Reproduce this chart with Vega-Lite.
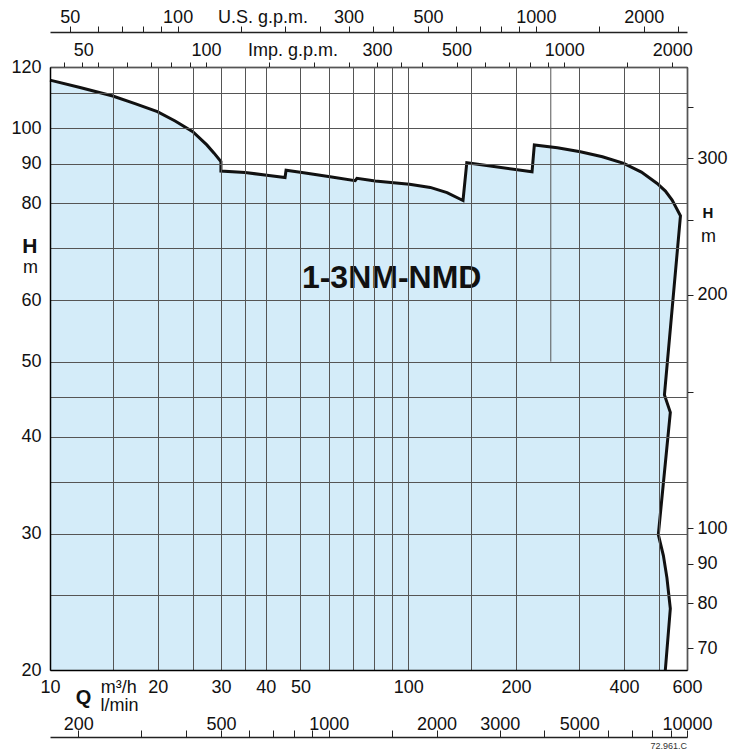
{
  "$schema": "https://vega.github.io/schema/vega-lite/v6.json",
  "width": 637,
  "height": 603,
  "autosize": "none",
  "padding": {"left": 50, "top": 67, "right": 55, "bottom": 81},
  "background": "white",
  "title": {"text": "72.961.C", "orient": "bottom", "anchor": "end", "frame": "group", "fontSize": 9, "fontWeight": "normal", "font": "Liberation Sans", "color": "#333", "offset": 4, "baseline": "top"},
  "datasets": {
    "curve": [
      {"i": 1, "Q": 10, "H": 115.4},
      {"i": 2, "Q": 12.13, "H": 112.9},
      {"i": 3, "Q": 14.97, "H": 110.1},
      {"i": 4, "Q": 17.27, "H": 107.6},
      {"i": 5, "Q": 19.94, "H": 105.1},
      {"i": 6, "Q": 22.35, "H": 102.2},
      {"i": 7, "Q": 25.04, "H": 99.0},
      {"i": 8, "Q": 27.4, "H": 95.2},
      {"i": 9, "Q": 28.71, "H": 92.9},
      {"i": 10, "Q": 30.0, "H": 90.6},
      {"i": 11, "Q": 30.0, "H": 88.1},
      {"i": 12, "Q": 35.05, "H": 87.7},
      {"i": 13, "Q": 40.3, "H": 87.0},
      {"i": 14, "Q": 45.3, "H": 86.4},
      {"i": 15, "Q": 45.6, "H": 88.3},
      {"i": 16, "Q": 50.5, "H": 87.7},
      {"i": 17, "Q": 60.5, "H": 86.6},
      {"i": 18, "Q": 71.1, "H": 85.6},
      {"i": 19, "Q": 71.9, "H": 86.2},
      {"i": 20, "Q": 80.9, "H": 85.5},
      {"i": 21, "Q": 91.0, "H": 85.1},
      {"i": 22, "Q": 100.8, "H": 84.7},
      {"i": 23, "Q": 115.2, "H": 83.9},
      {"i": 24, "Q": 128.3, "H": 82.6},
      {"i": 25, "Q": 142.2, "H": 80.7},
      {"i": 26, "Q": 145.7, "H": 90.3},
      {"i": 27, "Q": 221.6, "H": 87.9},
      {"i": 28, "Q": 224.9, "H": 95.2},
      {"i": 29, "Q": 260.8, "H": 94.4},
      {"i": 30, "Q": 302.3, "H": 93.3},
      {"i": 31, "Q": 348.4, "H": 91.9},
      {"i": 32, "Q": 399.5, "H": 90.1},
      {"i": 33, "Q": 447.6, "H": 87.8},
      {"i": 34, "Q": 495.2, "H": 84.9},
      {"i": 35, "Q": 522.3, "H": 83.0},
      {"i": 36, "Q": 545.3, "H": 80.8},
      {"i": 37, "Q": 575.3, "H": 77.1},
      {"i": 38, "Q": 519, "H": 45.3},
      {"i": 39, "Q": 539, "H": 43.0},
      {"i": 40, "Q": 499, "H": 29.9},
      {"i": 41, "Q": 515.5, "H": 28.1},
      {"i": 42, "Q": 527.4, "H": 26.3},
      {"i": 43, "Q": 539, "H": 24.0},
      {"i": 44, "Q": 522, "H": 20},
      {"i": 45, "Q": 10, "H": 20}
    ],
    "label": [{"Q": 89.9, "H": 62.2, "text": "1-3NM-NMD"}],
    "partial": [{"Q": 250, "Hlow": 50, "Hhigh": 120}],
    "units": [
      {"usgpm": 44.029, "impgpm": 36.661, "lmin": 166.67, "ft": 65.617},
      {"usgpm": 2641.7, "impgpm": 2199.7, "lmin": 10000, "ft": 393.7}
    ]
  },
  "layer": [
    {
      "data": {"name": "curve"},
      "mark": {"type": "line", "interpolate": "linear-closed", "fill": "#d4ecf9", "strokeWidth": 0, "strokeOpacity": 0},
      "encoding": {
        "x": {
          "field": "Q", "type": "quantitative",
          "scale": {"type": "log", "domain": [10, 600], "nice": false},
          "axis": {
            "orient": "bottom",
            "values": [10, 15, 15.5, 20, 25, 30, 35, 40, 50, 60, 70, 80, 90, 100, 150, 200, 300, 400, 500, 600],
            "labelExpr": "datum.value == 15.5 ? 'm³/h' : (indexof([10,20,30,40,50,100,200,400,600], datum.value) >= 0 ? '' + datum.value : '')",
            "grid": true, "gridColor": "#555", "gridWidth": 1,
            "gridOpacity": {"condition": {"test": "datum.value == 15.5", "value": 0}, "value": 1},
            "ticks": false, "domain": true, "domainColor": "#000", "domainWidth": 1.5,
            "labelPadding": 22, "labelBaseline": "alphabetic", "labelAlign": "center",
            "title": "Q", "titleX": 33, "titleY": 33, "titleAlign": "center", "titleBaseline": "alphabetic",
            "titleFontSize": 20, "titleFontWeight": "bold", "titleAngle": 0,
            "zindex": 1
          }
        },
        "y": {
          "field": "H", "type": "quantitative",
          "scale": {"type": "log", "domain": [20, 120], "nice": false},
          "axis": {
            "orient": "left",
            "values": [20, 25, 30, 35, 40, 45, 50, 60, 70, 80, 90, 100, 111, 120],
            "labelExpr": "datum.value == 70 ? 'H' : (indexof([20,30,40,50,60,80,90,100,120], datum.value) >= 0 ? '' + datum.value : '')",
            "grid": true, "gridColor": "#555", "gridWidth": 1,
            "ticks": false, "domain": true, "domainColor": "#000", "domainWidth": 1.5,
            "labelPadding": {"condition": {"test": "datum.value == 70", "value": 13}, "value": 9},
            "labelFontWeight": {"condition": {"test": "datum.value == 70", "value": "bold"}, "value": "normal"},
            "labelFontSize": {"condition": {"test": "datum.value == 70", "value": 21}, "value": 18},
            "labelOffset": {"condition": {"test": "datum.value == 70", "value": -2}, "value": 0},
            "labelBaseline": "middle", "labelAlign": "right",
            "title": "m", "titleX": -20, "titleY": 205, "titleAlign": "center", "titleBaseline": "alphabetic",
            "titleAngle": 0, "titleFontSize": 18, "titleFontWeight": "normal",
            "zindex": 1
          }
        },
        "order": {"field": "i", "type": "quantitative"}
      }
    },
    {
      "data": {"name": "partial"},
      "mark": {"type": "rule", "color": "#555", "strokeWidth": 1},
      "encoding": {
        "x": {"field": "Q", "type": "quantitative", "scale": {"type": "log", "domain": [10, 600], "nice": false}, "axis": null},
        "y": {"field": "Hlow", "type": "quantitative", "scale": {"type": "log", "domain": [20, 120], "nice": false}, "axis": null},
        "y2": {"field": "Hhigh"}
      }
    },
    {
      "data": {"name": "curve"},
      "transform": [{"filter": "datum.i <= 44"}],
      "mark": {"type": "line", "stroke": "#111", "strokeWidth": 3, "strokeJoin": "miter"},
      "encoding": {
        "x": {"field": "Q", "type": "quantitative", "scale": {"type": "log", "domain": [10, 600], "nice": false}, "axis": null},
        "y": {"field": "H", "type": "quantitative", "scale": {"type": "log", "domain": [20, 120], "nice": false}, "axis": null},
        "order": {"field": "i", "type": "quantitative"}
      }
    },
    {
      "data": {"name": "label"},
      "mark": {"type": "text", "font": "Liberation Sans", "fontSize": 32, "fontWeight": "bold", "align": "center", "baseline": "alphabetic", "color": "#111"},
      "encoding": {
        "x": {"field": "Q", "type": "quantitative", "scale": {"type": "log", "domain": [10, 600], "nice": false}, "axis": null},
        "y": {"field": "H", "type": "quantitative", "scale": {"type": "log", "domain": [20, 120], "nice": false}, "axis": null},
        "text": {"field": "text"}
      }
    },
    {
      "data": {"name": "units"},
      "mark": {"type": "point", "opacity": 0},
      "encoding": {
        "x": {
          "field": "usgpm", "type": "quantitative",
          "scale": {"type": "log", "domain": [44.029, 2641.7], "nice": false},
          "axis": {
            "orient": "top", "offset": 35,
            "values": [50, 60, 70, 80, 90, 100, 150, 200, 250, 300, 350, 400, 500, 600, 700, 800, 900, 1000, 1500, 2000, 2500],
            "labelExpr": "indexof([50,100,300,500,1000,2000], datum.value) >= 0 ? '' + datum.value : ''",
            "grid": false, "ticks": true, "tickSize": 6, "tickColor": "#222", "tickWidth": 1,
            "domain": true, "domainColor": "#222", "domainWidth": 1.5,
            "labelPadding": 4, "labelBaseline": "alphabetic", "labelAlign": "center",
            "title": "U.S. g.p.m.", "titleX": 212.5, "titleY": -10, "titleAlign": "center", "titleBaseline": "alphabetic",
            "titleFontSize": 18, "titleFontWeight": "normal", "titleAngle": 0
          }
        }
      }
    },
    {
      "data": {"name": "units"},
      "mark": {"type": "point", "opacity": 0},
      "encoding": {
        "x": {
          "field": "impgpm", "type": "quantitative",
          "scale": {"type": "log", "domain": [36.661, 2199.7], "nice": false},
          "axis": {
            "orient": "top", "offset": 0,
            "values": [40, 45, 50, 60, 70, 80, 90, 100, 150, 200, 250, 300, 350, 400, 500, 600, 700, 800, 900, 1000, 1500, 2000],
            "labelExpr": "indexof([50,100,300,500,1000,2000], datum.value) >= 0 ? '' + datum.value : ''",
            "labelOffset": {"condition": {"test": "datum.value == 50", "value": -15}, "value": 0},
            "grid": false, "ticks": true, "tickSize": 5, "tickColor": "#222", "tickWidth": 1,
            "domain": true, "domainColor": "#000", "domainWidth": 1.5,
            "labelPadding": 7, "labelBaseline": "alphabetic", "labelAlign": "center",
            "title": "Imp. g.p.m.", "titleX": 242.5, "titleY": -12, "titleAlign": "center", "titleBaseline": "alphabetic",
            "titleFontSize": 18, "titleFontWeight": "normal", "titleAngle": 0
          }
        }
      }
    },
    {
      "data": {"name": "units"},
      "mark": {"type": "point", "opacity": 0},
      "encoding": {
        "x": {
          "field": "lmin", "type": "quantitative",
          "scale": {"type": "log", "domain": [166.67, 10000], "nice": false},
          "axis": {
            "orient": "top", "offset": -670,
            "values": [200, 300, 400, 500, 600, 700, 800, 900, 1000, 1500, 2000, 3000, 4000, 5000, 6000, 7000, 8000, 9000, 10000],
            "labelExpr": "indexof([200,500,1000,2000,3000,5000,10000], datum.value) >= 0 ? '' + datum.value : ''",
            "grid": false, "ticks": true, "tickSize": 7, "tickColor": "#222", "tickWidth": 1,
            "domain": true, "domainColor": "#222", "domainWidth": 1.5,
            "labelPadding": 1, "labelBaseline": "alphabetic", "labelAlign": "center",
            "title": "l/min", "titleX": 50, "titleY": -27, "titleAlign": "left", "titleBaseline": "alphabetic",
            "titleFontSize": 18, "titleFontWeight": "normal", "titleAngle": 0
          }
        }
      }
    },
    {
      "data": {"name": "units"},
      "mark": {"type": "point", "opacity": 0},
      "encoding": {
        "y": {
          "field": "ft", "type": "quantitative",
          "scale": {"type": "log", "domain": [65.617, 393.7], "nice": false},
          "axis": {
            "orient": "right",
            "values": [70, 80, 90, 100, 150, 200, 250, 300, 350],
            "labelExpr": "datum.value == 250 ? 'H' : (indexof([70,80,90,100,200,300], datum.value) >= 0 ? '' + datum.value : '')",
            "grid": false, "ticks": true, "tickSize": 6, "tickColor": "#222", "tickWidth": 1,
            "domain": true, "domainColor": "#000", "domainWidth": 1.5,
            "labelPadding": {"condition": {"test": "datum.value == 250", "value": 9}, "value": 4},
            "labelFontWeight": {"condition": {"test": "datum.value == 250", "value": "bold"}, "value": "normal"},
            "labelFontSize": {"condition": {"test": "datum.value == 250", "value": 15}, "value": 18},
            "labelOffset": {"condition": {"test": "datum.value == 250", "value": -7}, "value": 0},
            "labelBaseline": "middle", "labelAlign": "left",
            "title": "m", "titleX": 21, "titleY": 174, "titleAlign": "center", "titleBaseline": "alphabetic",
            "titleAngle": 0, "titleFontSize": 18, "titleFontWeight": "normal"
          }
        }
      }
    }
  ],
  "resolve": {"scale": {"x": "independent", "y": "independent"}},
  "config": {
    "font": "Liberation Sans",
    "view": {"stroke": null},
    "axis": {
      "labelFont": "Liberation Sans", "labelFontSize": 18, "labelColor": "#111",
      "titleFont": "Liberation Sans", "titleColor": "#111",
      "labelOverlap": false, "labelBound": false, "labelFlush": false
    }
  }
}
